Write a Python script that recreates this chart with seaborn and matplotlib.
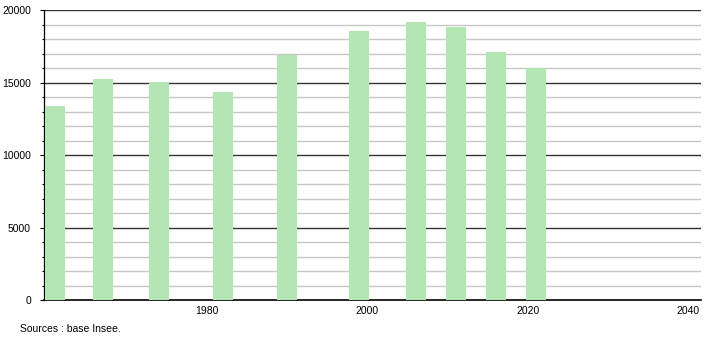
import matplotlib
matplotlib.use("Agg")
import matplotlib.pyplot as plt
import seaborn as sns
import pandas as pd
import numpy as np

years = [1961, 1967, 1974, 1982, 1990, 1999, 2006, 2011, 2016, 2021]
population = [13400, 15260, 15050, 14370, 16940, 18570, 19190, 18870, 17120, 16000]
xticks = [1980, 2000, 2020, 2040]
yticks = [0, 5000, 10000, 15000, 20000]
source_text = "Sources : base Insee."

df = pd.DataFrame({"year": years, "population": population})

sns.set_style("white")
plt.rcParams["font.family"] = ["Liberation Sans", "DejaVu Sans"]

fig = plt.figure(figsize=(7.1, 3.4), dpi=100)
ax = fig.add_axes([43.5 / 710, (340 - 300.3) / 340, (701 - 43.5) / 710, 290 / 340])

bar_color = "#b3e6b3"
ax.set_axisbelow(True)
ax.bar(df["year"], df["population"], width=2.5, color=bar_color, edgecolor="none", zorder=3)

ax.set_xlim(1959.6, 2041.6)
ax.set_ylim(0, 20000)

# grid lines
for v in range(1000, 20001, 1000):
    if v % 5000 == 0:
        ax.axhline(v, color="#333333", lw=1.0, zorder=1)
    else:
        ax.axhline(v, color="#c8c8c8", lw=1.0, zorder=1)

ax.set_yticks(yticks)
ax.set_yticks(range(0, 20001, 1000), minor=True)
ax.set_yticklabels([str(t) for t in yticks], fontsize=7.5)
ax.tick_params(axis="y", which="major", left=True, length=3, width=0.8,
               color="#000000", labelcolor="#000000", pad=6)
ax.tick_params(axis="y", which="minor", left=True, length=1.5, width=0.8, color="#000000")
ax.set_xticks(xticks)
ax.set_xticklabels([str(t) for t in xticks], fontsize=7.5)
ax.tick_params(axis="x", which="major", length=0, pad=4, labelcolor="#000000")

for s in ["top", "right"]:
    ax.spines[s].set_visible(False)
ax.spines["left"].set_color("#000000")
ax.spines["left"].set_linewidth(0.9)
ax.spines["bottom"].set_color("#000000")
ax.spines["bottom"].set_linewidth(1.2)

fig.text(20 / 710, 1 - 329 / 340, source_text, fontsize=7.5, ha="left", va="center",
         color="#000000")

fig.savefig("out.png", dpi=100)
